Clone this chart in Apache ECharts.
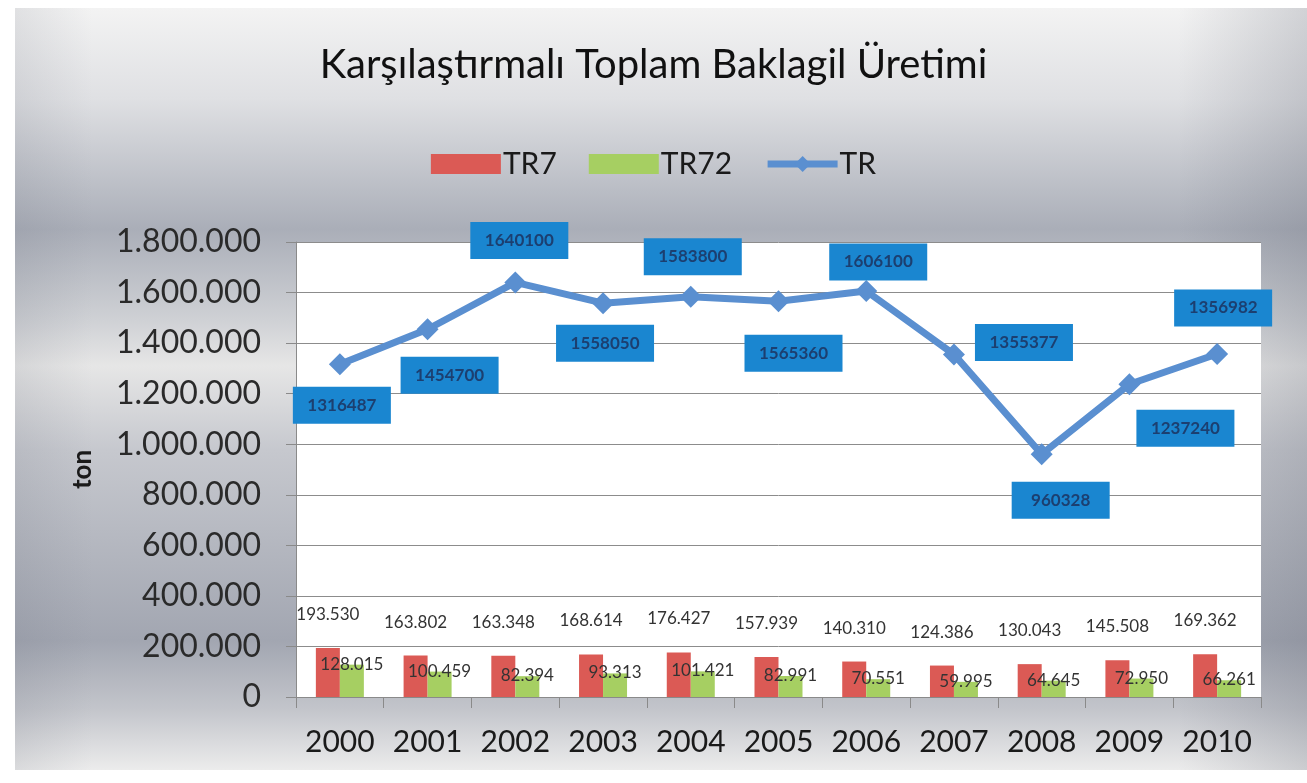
<!DOCTYPE html>
<html>
<head>
<meta charset="utf-8">
<title>Karşılaştırmalı Toplam Baklagil Üretimi</title>
<script src="https://cdn.jsdelivr.net/npm/echarts@6/dist/echarts.min.js"></script>
<style>
  html, body { margin: 0; padding: 0; background: #fff; }
  #chart { width: 1307px; height: 783px; }
</style>
</head>
<body>
<div id="chart"></div>
<script>
  // values
  const years = ['2000', '2001', '2002', '2003', '2004', '2005', '2006', '2007', '2008', '2009', '2010']
  const tr7 = [193530, 163802, 163348, 168614, 176427, 157939, 140310, 124386, 130043, 145508, 169362]
  const tr72 = [128015, 100459, 82394, 93313, 101421, 82991, 70551, 59995, 64645, 72950, 66261]
  const tr = [1316487, 1454700, 1640100, 1558050, 1583800, 1565360, 1606100, 1355377, 960328, 1237240, 1356982]

  // where each TR label box sits relative to its point (px)
  const trLabelOffsets = [[2, 41], [22, 46], [4, -42], [2, 40], [2, -40], [15, 52], [12, -29], [70, -12], [19, 46], [56, 44], [6, -46]]

  const font = 'Lato, "Open Sans", sans-serif'
  const dots = v => String(v).replace(/\B(?=(\d{3})+(?!\d))/g, '.')

  const chart = echarts.init(document.getElementById('chart'))

  chart.setOption({
    textStyle: { fontFamily: font },
    animation: false,
    graphic: [
      {
        type: 'rect',
        z: -10,
        silent: true,
        shape: { x: 15, y: 8, width: 1292, height: 762 },
        style: {
          fill: new echarts.graphic.LinearGradient(0, 0, 0, 1, [
            { offset: 0, color: '#f3f3f3' },
            { offset: 0.12, color: '#dfe0e3' },
            { offset: 0.29, color: '#aaaeb8' },
            { offset: 0.41, color: '#cfd1d5' },
            { offset: 0.47, color: '#e6e6e6' },
            { offset: 0.58, color: '#c6c8ce' },
            { offset: 0.83, color: '#a2a6b1' },
            { offset: 0.92, color: '#c3c5cb' },
            { offset: 1, color: '#ececec' },
          ]),
        },
      },
      {
        type: 'rect',
        z: -9,
        silent: true,
        shape: { x: 15, y: 8, width: 1292, height: 762 },
        style: {
          fill: new echarts.graphic.LinearGradient(0, 0, 1, 0, [
            { offset: 0, color: 'rgba(90,95,110,0.12)' },
            { offset: 0.06, color: 'rgba(90,95,110,0)' },
            { offset: 0.9, color: 'rgba(90,95,110,0)' },
            { offset: 1, color: 'rgba(90,95,110,0.22)' },
          ]),
        },
      },
    ],
    title: {
      text: 'Karşılaştırmalı Toplam Baklagil Üretimi',
      left: 'center',
      top: 40,
      textStyle: { fontFamily: font, fontSize: 40, fontWeight: 'normal', color: '#111' },
    },
    legend: {
      top: 144,
      left: 'center',
      itemWidth: 70,
      itemHeight: 20,
      itemGap: 32,
      textStyle: { fontFamily: font, fontSize: 30, color: '#1a1a1a', padding: [0, 0, 0, -3] },
      data: [
        { name: 'TR7', icon: 'rect' },
        { name: 'TR72', icon: 'rect' },
        { name: 'TR', lineStyle: { width: 7 } },
      ],
    },
    grid: {
      left: 296,
      right: 46,
      top: 242,
      bottom: 86,
      show: true,
      backgroundColor: '#fff',
      borderWidth: 0,
    },
    xAxis: {
      type: 'category',
      data: years,
      boundaryGap: true,
      axisLine: { lineStyle: { color: '#8a8a8a', width: 1 } },
      axisTick: { show: true, length: 11, lineStyle: { color: '#8a8a8a' } },
      axisLabel: { fontFamily: font, fontSize: 30, color: '#1a1a1a', margin: 30, interval: 0 },
    },
    yAxis: {
      type: 'value',
      min: 0,
      max: 1800000,
      interval: 200000,
      name: 'ton',
      nameLocation: 'middle',
      nameGap: 200,
      nameRotate: 90,
      nameTextStyle: { fontFamily: font, fontSize: 26, fontWeight: 'bold', color: '#1a1a1a' },
      axisLine: { show: true, lineStyle: { color: '#8a8a8a', width: 1 } },
      axisTick: { show: true, length: 10, lineStyle: { color: '#8a8a8a' } },
      splitLine: { lineStyle: { color: '#8c8c8c', width: 1 } },
      axisLabel: {
        fontFamily: font,
        fontSize: 32,
        color: '#2a2a2a',
        margin: 35,
        formatter: v => dots(v),
      },
    },
    series: [
      {
        name: 'TR7',
        type: 'bar',
        data: tr7,
        barWidth: 24,
        barGap: '0%',
        itemStyle: { color: '#db5a55' },
        label: {
          show: true,
          position: 'top',
          distance: 25,
          fontFamily: font,
          fontSize: 17,
          color: '#333',
          formatter: p => dots(p.value),
        },
      },
      {
        name: 'TR72',
        type: 'bar',
        data: tr72,
        barWidth: 24,
        itemStyle: { color: '#a6cf62' },
        label: {
          show: true,
          position: 'top',
          distance: -8,
          fontFamily: font,
          fontSize: 17,
          color: '#333',
          formatter: p => dots(p.value),
        },
      },
      {
        name: 'TR',
        type: 'line',
        z: 5,
        data: tr.map((v, i) => ({ value: v, label: { offset: trLabelOffsets[i] } })),
        symbol: 'diamond',
        symbolSize: 22,
        lineStyle: { color: '#5a8fd0', width: 7 },
        itemStyle: { color: '#5a8fd0' },
        label: {
          show: true,
          position: 'inside',
          fontFamily: font,
          fontSize: 17,
          fontWeight: 'bold',
          color: '#1c3f70',
          backgroundColor: '#1a86d0',
          width: 74,
          height: 21,
          align: 'center',
          padding: [8, 12],
        },
      },
    ],
  })
</script>
</body>
</html>
